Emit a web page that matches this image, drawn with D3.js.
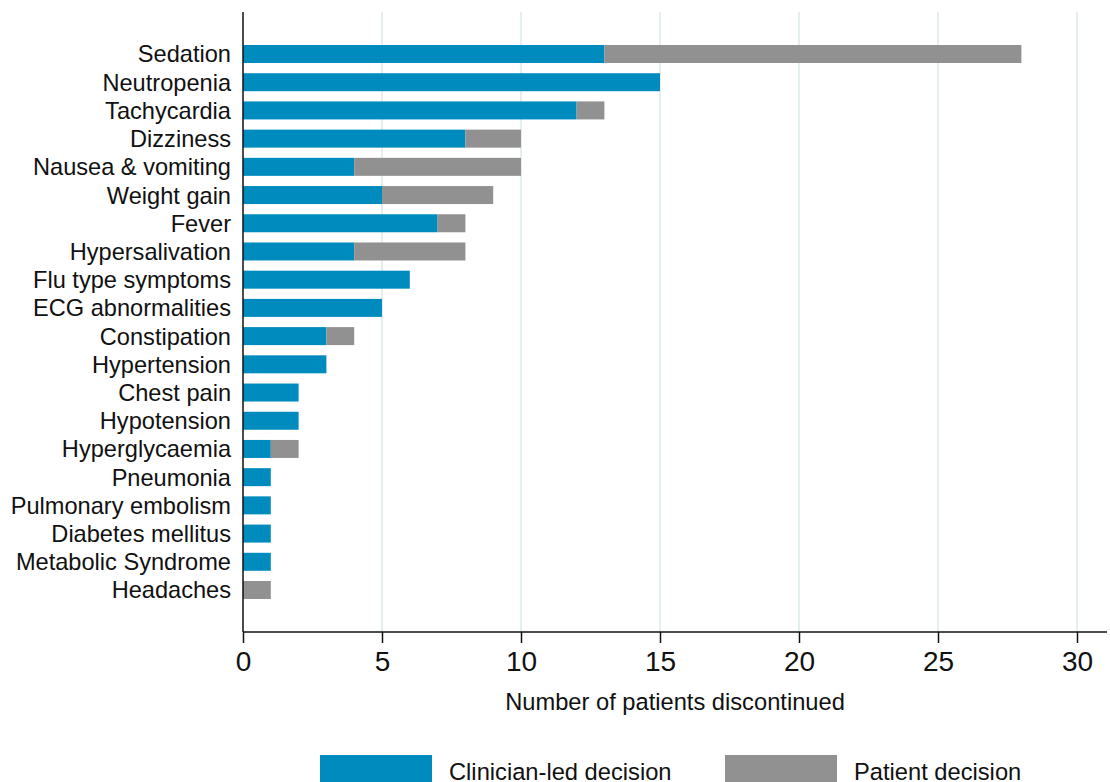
<!DOCTYPE html>
<html><head><meta charset="utf-8">
<script src="https://cdn.jsdelivr.net/npm/d3@7"></script>
<style>body{margin:0;background:#fff;} svg{display:block;font-family:"Liberation Sans",Arial,Helvetica,sans-serif;}</style>
</head><body>
<svg id="chart" width="1110" height="782"></svg>
<script>
const categories = ["Sedation","Neutropenia","Tachycardia","Dizziness","Nausea & vomiting","Weight gain","Fever","Hypersalivation","Flu type symptoms","ECG abnormalities","Constipation","Hypertension","Chest pain","Hypotension","Hyperglycaemia","Pneumonia","Pulmonary embolism","Diabetes mellitus","Metabolic Syndrome","Headaches"];
const clinician = [13,15,12,8,4,5,7,4,6,5,3,3,2,2,1,1,1,1,1,0];
const patient   = [15,0,1,2,6,4,1,4,0,0,1,0,0,0,1,0,0,0,0,1];
const xTicks = [0,5,10,15,20,25,30];
const seriesNames = ["Clinician-led decision","Patient decision"];
const colors = ["#008bbf","#919191"];

const svg = d3.select("#chart");
const x = d3.scaleLinear().domain([0,30]).range([243,1077]);
const y = d3.scalePoint().domain(categories).range([54,590]);
const barH = 18;
const yTop = 12, yAxis = 632;

// gridlines
svg.append("g").selectAll("line").data(xTicks.slice(1)).join("line")
  .attr("x1",d=>x(d)).attr("x2",d=>x(d)).attr("y1",yTop).attr("y2",yAxis)
  .attr("stroke","#e4eef1").attr("stroke-width",2);

const data = categories.map((c,i)=>({c, a:clinician[i], b:patient[i]}));
const stack = d3.stack().keys(["a","b"])(data);
stack.forEach((s,k)=>{
  svg.append("g").selectAll("rect").data(s).join("rect")
    .attr("x",d=>x(d[0])).attr("width",d=>x(d[1])-x(d[0]))
    .attr("y",d=>y(d.data.c)-barH/2).attr("height",barH)
    .attr("fill",colors[k]);
});

// y labels
svg.append("g").selectAll("text").data(categories).join("text")
  .attr("x",231).attr("y",d=>y(d)).attr("dy","0.36em")
  .attr("text-anchor","end").attr("font-size",23.6).attr("fill","#111").text(d=>d);

// axes lines
svg.append("line").attr("x1",243).attr("x2",243).attr("y1",yTop).attr("y2",yAxis).attr("stroke","#111").attr("stroke-width",1.5);
const xa = svg.append("g").attr("transform",`translate(0,${yAxis})`)
  .call(d3.axisBottom(x).tickValues(xTicks).tickSize(11).tickPadding(8).tickFormat(d3.format("d")));
xa.select(".domain").remove();
xa.selectAll(".tick line").attr("stroke","#111").attr("stroke-width",1.5);
xa.selectAll(".tick text").attr("font-size",28).attr("fill","#111").attr("font-family","Liberation Sans, Arial, sans-serif");
svg.append("line").attr("x1",243).attr("x2",1107).attr("y1",yAxis).attr("y2",yAxis).attr("stroke","#111").attr("stroke-width",1.5);

svg.append("text").attr("x",675).attr("y",710).attr("text-anchor","middle").attr("font-size",23.7).attr("fill","#111")
  .text("Number of patients discontinued");

// legend
const legX = [320,725];
seriesNames.forEach((n,i)=>{
  svg.append("rect").attr("x",legX[i]).attr("y",755).attr("width",112).attr("height",30).attr("fill",colors[i]);
  svg.append("text").attr("x",legX[i]+129).attr("y",780).attr("font-size",23.7).attr("fill","#111").text(n);
});
</script>
</body></html>
